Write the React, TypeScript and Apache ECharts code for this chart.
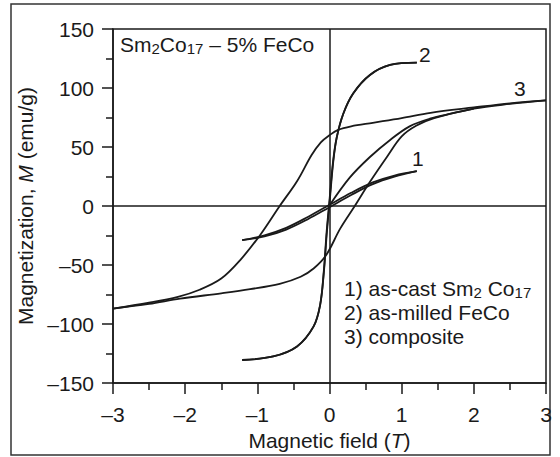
import React, { useEffect, useRef } from 'react';
import * as echarts from 'echarts';

// Tick values
const xTicks = [-3, -2, -1, 0, 1, 2, 3];
const yTicks = [-150, -100, -50, 0, 50, 100, 150];

// Curve 1: as-cast Sm2Co17 (descending / ascending field branches)
const cast1Down: [number, number][] = [
  [1.21, 29.5], [0.9, 25.8], [0.6, 20], [0.3, 11.2], [0, 1], [-0.3, -9.3], [-0.6, -18.5], [-0.9, -24.8], [-1.21, -29],
];
const cast1Up: [number, number][] = [
  [-1.21, -29], [-0.9, -25.8], [-0.6, -20], [-0.3, -11.2], [0, -1], [0.3, 9.3], [0.6, 18.5], [0.9, 24.8], [1.21, 29.5],
];

// Curve 2: as-milled FeCo (very narrow loop: both branches practically coincide)
const feco2Down: [number, number][] = [
  [1.21, 121.5], [0.84, 119.5], [0.56, 111], [0.33, 95.5], [0.19, 78], [0.1, 58], [0.05, 38], [0.0, 5],
  [-0.04, -22], [-0.08, -56], [-0.13, -84], [-0.22, -102], [-0.45, -119], [-0.78, -127.5], [-1.21, -130.5],
];
const feco2Up: [number, number][] = [
  [-1.21, -130.5], [-0.78, -127.5], [-0.45, -119], [-0.22, -102], [-0.13, -84], [-0.078, -56], [-0.036, -22],
  [0.004, 5], [0.053, 38], [0.1, 58], [0.19, 78], [0.33, 95.5], [0.56, 111], [0.84, 119.5], [1.21, 121.5],
];

// Curve 3: composite
const comp3Down: [number, number][] = [
  [3, 89.5], [2.5, 87], [2, 83.5], [1.4, 79], [1, 74.5], [0.6, 70.5], [0.3, 67.5], [0.12, 64.5], [0, 60],
  [-0.12, 54], [-0.25, 43], [-0.45, 21], [-0.69, 0], [-0.96, -24.5], [-1.24, -46], [-1.5, -61.5], [-1.8, -71],
  [-2.1, -77], [-2.5, -82], [-3, -87],
];
const comp3Up: [number, number][] = [
  [-3, -87], [-2.5, -83], [-2.07, -78.5], [-1.5, -74], [-1.1, -70.5], [-0.69, -66], [-0.4, -60], [-0.22, -53],
  [-0.05, -42], [0.15, -19], [0.35, 0], [0.55, 19.5], [0.8, 42], [1.0, 59], [1.2, 68], [1.45, 74.5], [2, 82.5],
  [2.5, 86.5], [3, 89.5],
];
const comp3Initial: [number, number][] = [
  [0, 0.5], [0.28, 24], [0.56, 41.5], [0.84, 56], [1.11, 67.5], [1.39, 74], [1.7, 78.5], [2, 82.5],
];

const FONT = '"Liberation Sans", Arial, Helvetica, sans-serif';
const INK = '#1a1a1a';
const FS = 21;

const fmt = (v: number) => (v < 0 ? '\u2013' + Math.abs(v) : String(v));

export default function App() {
  const ref = useRef<HTMLDivElement>(null);
  useEffect(() => {
    document.body.style.margin = '0';
    const chart = echarts.init(ref.current!, null, { renderer: 'svg' });
    const mk = (name: string, data: [number, number][]) => ({
      type: 'line',
      name,
      data,
      smooth: 0.35,
      symbol: 'none',
      showSymbol: false,
      silent: true,
      z: 3,
      lineStyle: { color: INK, width: 1.8 },
      itemStyle: { color: INK },
    });
    const axisCommon = {
      type: 'value',
      axisLine: { show: true, onZero: false, lineStyle: { color: INK, width: 1.5 } },
      axisTick: { show: true, inside: false, length: 11, lineStyle: { color: INK, width: 1.5 } },
      minorTick: { show: true, splitNumber: 2, length: 7, lineStyle: { color: INK, width: 1.5 } },
      splitLine: { show: false },
      minorSplitLine: { show: false },
      nameLocation: 'middle',
      nameTextStyle: {
        fontSize: FS, fontFamily: FONT, color: INK,
        rich: { i: { fontSize: FS, fontFamily: FONT, color: INK, fontStyle: 'italic' } },
      },
    };
    const sub = { fontSize: 15, lineHeight: 12, fontFamily: FONT, color: INK, padding: [8, 0, 0, 0] };
    const main = { fontSize: FS, lineHeight: 20, fontFamily: FONT, color: INK };
    const txt = (x: number, y: number, text: string) => ({
      type: 'text', x, y, silent: true, z: 10,
      style: { text, fill: INK, font: `${FS}px ${FONT}`, verticalAlign: 'middle', align: 'left', rich: { a: main, s: sub } },
    });
    chart.setOption({
      animation: false,
      grid: { left: 113, top: 29, width: 433, height: 354, show: true, borderColor: INK, borderWidth: 1.5, containLabel: false },
      xAxis: {
        ...axisCommon,
        min: xTicks[0], max: xTicks[xTicks.length - 1], interval: 1,
        name: 'Magnetic field ({i|T})',
        nameGap: 46,
        axisLabel: { fontSize: FS, fontFamily: FONT, color: INK, margin: 21, formatter: fmt },
      },
      yAxis: {
        ...axisCommon,
        min: yTicks[0], max: yTicks[yTicks.length - 1], interval: 50,
        name: 'Magnetization, {i|M} (emu/g)',
        nameGap: 70,
        axisLabel: { fontSize: FS, fontFamily: FONT, color: INK, margin: 19, formatter: fmt },
      },
      series: [
        {
          type: 'line', name: 'zero', data: [], silent: true,
          markLine: {
            silent: true, symbol: 'none', label: { show: false },
            lineStyle: { color: INK, width: 1.5, type: 'solid' },
            data: [{ xAxis: 0 }, { yAxis: 0 }],
          },
        },
        mk('as-cast Sm2Co17 (down)', cast1Down),
        mk('as-cast Sm2Co17 (up)', cast1Up),
        mk('as-milled FeCo (down)', feco2Down),
        mk('as-milled FeCo (up)', feco2Up),
        mk('composite (down)', comp3Down),
        mk('composite (up)', comp3Up),
        mk('composite (initial)', comp3Initial),
      ],
      graphic: [
        { type: 'rect', silent: true, shape: { x: 11, y: 4, width: 539, height: 451 }, style: { fill: 'none', stroke: '#333', lineWidth: 1.5 } },
        txt(120, 44, '{a|Sm}{s|2}{a|Co}{s|17}{a| \u2013 5% FeCo}'),
        txt(344, 288, '{a|1) as-cast Sm}{s|2}{a| Co}{s|17}'),
        txt(344, 312, '{a|2) as-milled FeCo}'),
        txt(344, 336, '{a|3) composite}'),
        txt(419, 54, '{a|2}'),
        txt(514, 88, '{a|3}'),
        txt(412, 158, '{a|1}'),
      ],
    });
    return () => chart.dispose();
  }, []);
  return <div ref={ref} style={{ position: 'absolute', left: 0, top: 0, width: 560, height: 457 }} />;
}
